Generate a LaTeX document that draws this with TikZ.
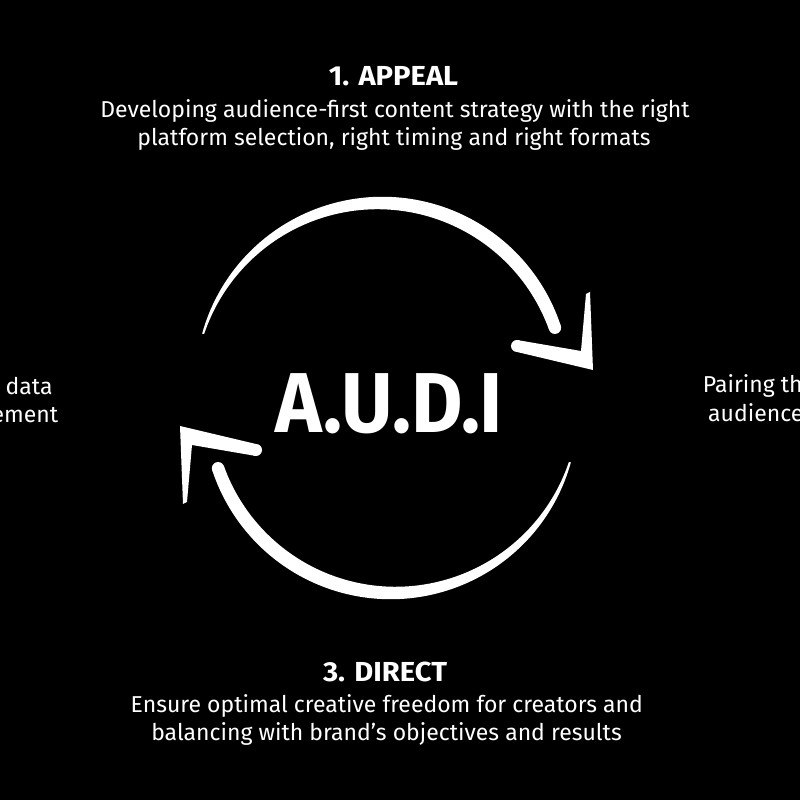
\documentclass[tikz,border=0pt]{standalone}
\usepackage{fontspec}
\setmainfont{Fira Sans}
\newfontfamily\bodyfont[FakeStretch=1.0]{Fira Sans}
\newfontfamily\headfont[FakeStretch=1.06]{Fira Sans}
\newfontfamily\bigfont[FakeStretch=0.93]{Fira Sans}
\begin{document}
\begin{tikzpicture}[x=1pt,y=1pt,
  bodytxt/.style={inner sep=0pt,text=white,font=\bodyfont\fontsize{23}{28}\selectfont},
  headtxt/.style={inner sep=0pt,text=white,font=\headfont\bfseries\fontsize{27.5}{32}\selectfont},
  bigtxt/.style={inner sep=0pt,text=white,font=\bigfont\bfseries\fontsize{85}{90}\selectfont},
  stroke/.style={fill=white}]
\fill[black] (0,0) rectangle (800,800);
\useasboundingbox (0,0) rectangle (800,800);

% top block
\node[headtxt,anchor=base] (t1) at (393.5,714) {1. APPEAL};
\node[bodytxt,anchor=base] (t1a) at (395,682.3) {Developing audience-first content strategy with the right};
\node[bodytxt,anchor=base] (t1b) at (394,654.3) {platform selection, right timing and right formats};

% bottom block
\node[headtxt,anchor=base] (t3) at (385,118.3) {3. DIRECT};
\node[bodytxt,anchor=base] (t3a) at (386.8,87.3) {Ensure optimal creative freedom for creators and};
\node[bodytxt,anchor=base] (t3b) at (386.5,59.3) {balancing with brand’s objectives and results};

% side fragments
\node[bodytxt,anchor=base east] (l1) at (52.7,405) {n data};
\node[bodytxt,anchor=base east] (l2) at (58.3,377) {ement};
\node[bodytxt,anchor=base west] (r1) at (702.7,407) {Pairing th};
\node[bodytxt,anchor=base west] (r2) at (708,378) {audience};

% centre
\node[bigtxt,anchor=base] (audi) at (389.5,367) {A.U.D.I};

% cycle arrows
\foreach \rot in {0,180}{
\begin{scope}[rotate around={\rot:(386.5,402)}]
  \begin{scope}[shift={(380,412)}]
    \fill[stroke] plot[domain=0:1,samples=90,variable=\t]
        ({163-144*\t}:{185+0.5*(2+12*sin(120*\t))})
      -- plot[domain=1:0,samples=90,variable=\t]
        ({163-144*\t}:{185-0.5*(2+12*sin(120*\t))}) -- cycle;
    \fill[stroke] (19:185) circle (6.2);
  \end{scope}
  \fill[stroke] (517,460) -- (581,449) -- (586,506) -- (590,508) -- (593,430) -- (517,448) -- cycle;
  \fill[stroke] (517,454) circle (6);
\end{scope}
}
\end{tikzpicture}
\end{document}
